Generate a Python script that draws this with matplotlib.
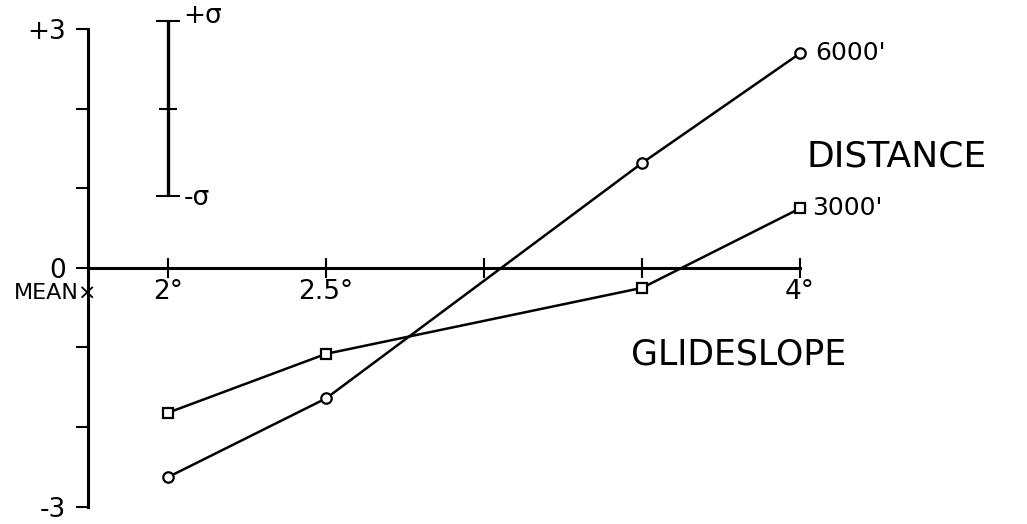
import matplotlib.pyplot as plt

# Glideslope angle (degrees) and normalised deviation for each distance
glideslope = [2.0, 2.5, 3.5, 4.0]
dev_6000 = [-2.63, -1.64, 1.32, 2.70]
dev_3000 = [-1.82, -1.08, -0.25, 0.75]

x_ticks = [2.0, 2.5, 3.0, 3.5, 4.0]
x_labels = ['2°', '2.5°', '', '', '4°']
y_ticks = [-3, -2, -1, 0, 1, 2, 3]
y_labels = ['-3', '', '', '0', '', '', '+3']

# one-sigma reference bar
sigma_center = 2.0
sigma = 1.1
sigma_x = 2.0

y_axis_at = 1.747

fig = plt.figure(figsize=(10.27, 5.24), dpi=100)
ax = fig.add_axes([0, 0, 1, 1])
ax.set_xlim(1.468, 4.718)
ax.set_ylim(-3.22, 3.37)

for side in ['top', 'right']:
    ax.spines[side].set_visible(False)
ax.spines['left'].set_position(('data', y_axis_at))
ax.spines['left'].set_bounds(-3, 3)
ax.spines['bottom'].set_position(('data', 0))
ax.spines['bottom'].set_bounds(y_axis_at, 4)
for side in ['left', 'bottom']:
    ax.spines[side].set_linewidth(2.2)

ax.set_xticks(x_ticks)
ax.set_xticklabels(x_labels, fontsize=19)
ax.set_yticks(y_ticks)
ax.set_yticklabels(y_labels, fontsize=19)
ax.tick_params(axis='x', direction='inout', length=14, width=1.5, pad=1)
ax.tick_params(axis='y', direction='out', length=9, width=1.5, pad=7)

mk = dict(color='black', lw=1.8, markerfacecolor='white',
          markeredgecolor='black', markeredgewidth=1.6, markersize=7.5)
ax.plot(glideslope, dev_6000, marker='o', **mk)
ax.plot(glideslope, dev_3000, marker='s', **mk)

ax.annotate("6000'", (glideslope[-1], dev_6000[-1]), xytext=(11, 0),
            textcoords='offset points', va='center', fontsize=18)
ax.annotate("3000'", (glideslope[-1], dev_3000[-1]), xytext=(9, 0),
            textcoords='offset points', va='center', fontsize=18)

ax.text(4.304, 1.40, 'DISTANCE', fontsize=26, ha='center', va='center')
ax.text(3.807, -1.09, 'GLIDESLOPE', fontsize=25, ha='center', va='center')

ax.annotate('MEAN×', (y_axis_at, 0), xytext=(6.5, -18),
            textcoords='offset points', ha='right', va='center', fontsize=16)

# sigma bar
ax.errorbar([sigma_x], [sigma_center], yerr=[sigma], fmt='_', color='black',
            markersize=13, markeredgewidth=1.5, elinewidth=2.4,
            capsize=8.6, capthick=1.8)
ax.annotate('+σ', (sigma_x, sigma_center + sigma), xytext=(11, 4),
            textcoords='offset points', va='center', fontsize=19)
ax.annotate('-σ', (sigma_x, sigma_center - sigma), xytext=(11, -1),
            textcoords='offset points', va='center', fontsize=19)

fig.savefig('out.png', dpi=100)
